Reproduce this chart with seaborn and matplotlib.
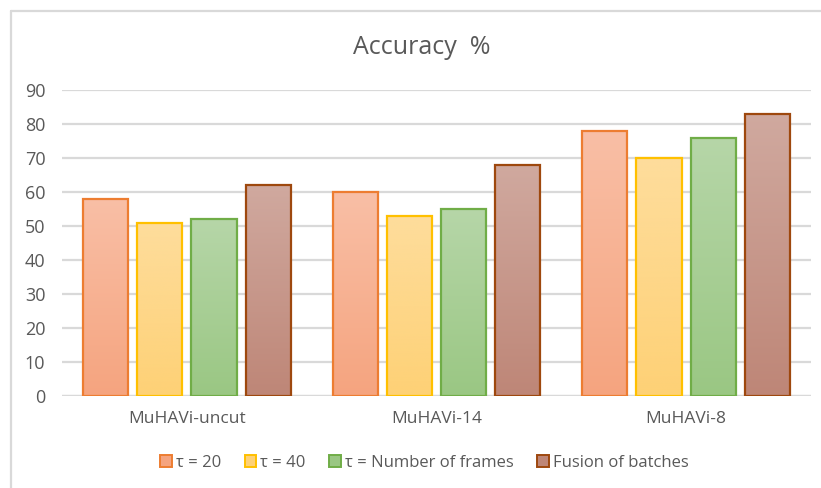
import numpy as np
import pandas as pd
import matplotlib
matplotlib.use("Agg")
import matplotlib.pyplot as plt
from matplotlib.colors import LinearSegmentedColormap
from matplotlib.lines import Line2D
from matplotlib.patches import Patch
import seaborn as sns

datasets = ["MuHAVi-uncut", "MuHAVi-14", "MuHAVi-8"]
series = ["τ = 20", "τ = 40", "τ = Number of frames", "Fusion of batches"]
tau20 = [58, 60, 78]
tau40 = [51, 53, 70]
tau_frames = [52, 55, 76]
fusion = [62, 68, 83]
y_ticks = [0, 10, 20, 30, 40, 50, 60, 70, 80, 90]

# fill gradients (top, bottom) and outline colours per series
tops = ["#F9BFA6", "#FEDD9C", "#B6D6A8", "#D0A99F"]
bottoms = ["#F5A47F", "#FED176", "#9AC783", "#BE8677"]
edges = ["#ED7D31", "#FFC000", "#70AD47", "#9E480E"]

df = pd.DataFrame({
    "dataset": datasets * 4,
    "series": [s for s in series for _ in datasets],
    "value": tau20 + tau40 + tau_frames + fusion,
})

sns.set_theme(style="white")
plt.rcParams["font.family"] = ["Open Sans", "DejaVu Sans"]

fig = plt.figure(figsize=(8.21, 4.88), dpi=100)
ax = fig.add_axes([62 / 821, 1 - 396 / 488, 749 / 821, 306 / 488])

sns.barplot(data=df, x="dataset", y="value", hue="series", order=datasets,
            hue_order=series, palette=bottoms, width=0.87, gap=0.17,
            legend=False, ax=ax, zorder=3)

ax.set_ylim(0, 90)
ax.set_xlim(-0.5, 2.5)
ax.set_yticks(y_ticks)
ax.yaxis.grid(True, color="#D9D9D9", linewidth=1.6, zorder=0)
ax.set_axisbelow(True)
for s in ax.spines.values():
    s.set_visible(False)
ax.axhline(0, color="#D9D9D9", linewidth=1.6, zorder=2)
ax.set_xlabel("")
ax.set_ylabel("")
ax.tick_params(axis="y", labelsize=13, colors="#595959", length=0, pad=12)
ax.tick_params(axis="x", labelsize=12.5, colors="#595959", length=0, pad=11)

# vertical gradient fill inside each bar
n = len(datasets)
for i, patch in enumerate(ax.patches[: 4 * n]):
    k = i // n
    cmap = LinearSegmentedColormap.from_list("g", [bottoms[k], tops[k]])
    x0, y0 = patch.get_x(), patch.get_y()
    w, h = patch.get_width(), patch.get_height()
    grad = np.linspace(0, 1, 256).reshape(-1, 1)
    im = ax.imshow(grad, cmap=cmap, origin="lower", aspect="auto",
                   extent=[x0, x0 + w, y0, y0 + h], zorder=3.5)
    im.set_clip_path(patch)
    patch.set_facecolor("none")
    patch.set_edgecolor(edges[k])
    patch.set_linewidth(1.6)
    patch.set_zorder(4)

ax.set_xlim(-0.5, 2.5)
ax.set_ylim(0, 90)

fig.text(0.514, 1 - 47 / 488, "Accuracy  %", ha="center", va="center",
         fontsize=18, color="#595959")

handles = [Patch(facecolor=bottoms[k], edgecolor=edges[k], linewidth=1.4)
           for k in range(4)]
fig.legend(handles, series, loc="center", bbox_to_anchor=(0.517, 1 - 463 / 488),
           ncol=4, frameon=False, fontsize=12, labelcolor="#595959",
           handlelength=0.7, handleheight=0.7, handletextpad=0.25,
           columnspacing=1.4)

# chart frame
fig.add_artist(Line2D([10.5 / 821, 1], [1 - 10.5 / 488, 1 - 10.5 / 488],
                      color="#D9D9D9", linewidth=1.6, transform=fig.transFigure))
fig.add_artist(Line2D([10.5 / 821, 10.5 / 821], [0, 1 - 10.5 / 488],
                      color="#D9D9D9", linewidth=1.6, transform=fig.transFigure))

fig.savefig("out.png", dpi=100)
